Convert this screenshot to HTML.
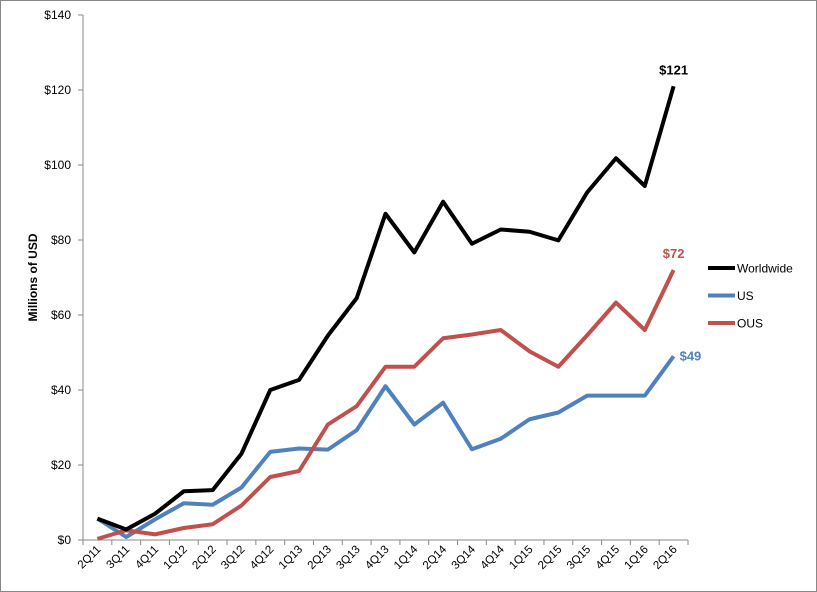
<!DOCTYPE html>
<html><head><meta charset="utf-8"><style>
html,body{margin:0;padding:0;background:#fff}
svg{display:block;font-family:"Liberation Sans",sans-serif}
</style></head><body>
<svg id="chart" width="817" height="592" viewBox="0 0 817 592">
<rect x="0.5" y="0.5" width="816" height="591" fill="#fff" stroke="#888"/>
<g id="axes"></g><g id="series"></g><g id="legend"></g>
</svg>
<script>
const categories=["2Q11","3Q11","4Q11","1Q12","2Q12","3Q12","4Q12","1Q13","2Q13","3Q13","4Q13","1Q14","2Q14","3Q14","4Q14","1Q15","2Q15","3Q15","4Q15","1Q16","2Q16"];
const worldwide=[5.7,2.8,7,13,13.3,23,40,42.7,54.5,64.5,87,76.7,90.2,79,82.8,82.2,79.9,92.7,101.8,94.4,121];
const us=[5.7,0.8,5.5,9.8,9.4,14,23.5,24.4,24.1,29.3,41,30.8,36.6,24.2,27,32.2,34,38.5,38.5,38.5,49];
const ous=[0.3,2.6,1.5,3.2,4.2,9.2,16.8,18.4,30.8,35.7,46.2,46.2,53.8,54.8,56,50.3,46.2,54.6,63.3,56,72];
const yTicks=[0,20,40,60,80,100,120,140];
const NS="http://www.w3.org/2000/svg";
const L=83,R=688,T=15,B=540,YMAX=140;
const band=(R-L)/categories.length;
const x=i=>L+band*(i+0.5);
const y=v=>B-(v/YMAX)*(B-T);
function mk(tag,attrs,parent,text){const e=document.createElementNS(NS,tag);for(const k in attrs)e.setAttribute(k,attrs[k]);if(text!==undefined)e.textContent=text;parent.appendChild(e);return e;}
const ax=document.getElementById('axes');
yTicks.forEach(t=>{
 const ln=mk('line',{x1:L-5,x2:L,y1:y(t),y2:y(t),stroke:'#888'},ax);
 
 
 const tx=mk('text',{x:L-12,y:y(t)+4,'text-anchor':'end','font-size':12,fill:'#000'},ax,'$'+t);
 
 
});
const ya=mk('line',{x1:L,x2:L,y1:T,y2:B,stroke:'#888'},ax);


const xa=mk('line',{x1:L,x2:R,y1:B,y2:B,stroke:'#888'},ax);


for(let i=0;i<=categories.length;i++){
 const t=mk('line',{x1:L+band*i,x2:L+band*i,y1:B,y2:B+5,stroke:'#888'},ax);
 
 
}
categories.forEach((c,i)=>{
 const tx=mk('text',{x:x(i)+4,y:B+10,'text-anchor':'end','font-size':11.5,transform:`rotate(-45 ${x(i)+4} ${B+10})`},ax,c);
 
 
});
const yt=mk('text',{x:0,y:0,'text-anchor':'middle','font-size':12,'font-weight':'bold',transform:`translate(37 ${(T+B)/2}) rotate(-90)`},ax,'Millions of USD');


const sg=document.getElementById('series');
const series=[["worldwide",worldwide,"#000","Worldwide"],["us",us,"#4f81bd","US"],["ous",ous,"#c0504d","OUS"]];
// draw order: US, OUS, worldwide on top
[series[1],series[2],series[0]].forEach(s=>{
 const p=mk('polyline',{points:s[1].map((v,i)=>x(i)+','+y(v)).join(' '),fill:'none',stroke:s[2],'stroke-width':4,'stroke-linejoin':'round'},sg);
 
 
});
const n=categories.length-1;
const l1=mk('text',{x:x(n),y:y(worldwide[n])-12,'text-anchor':'middle','font-size':13,'font-weight':'bold',fill:'#000'},sg,'$'+Math.round(worldwide[n]));


const l2=mk('text',{x:x(n),y:y(ous[n])-12,'text-anchor':'middle','font-size':13,'font-weight':'bold',fill:'#c0504d'},sg,'$'+Math.round(ous[n]));


const l3=mk('text',{x:x(n)+6,y:y(us[n])+4,'font-size':13,'font-weight':'bold',fill:'#4f81bd'},sg,'$'+Math.round(us[n]));


const lg=document.getElementById('legend');
series.forEach((s,i)=>{
 const yy=268+i*27.5;
 const g=mk('g',{},lg);
 
 
 mk('line',{x1:708,x2:735,y1:yy,y2:yy,stroke:s[2],'stroke-width':4},g);
 mk('text',{x:737,y:yy+4.5,'font-size':12},g,s[3]);
});
</script>
</body></html>
